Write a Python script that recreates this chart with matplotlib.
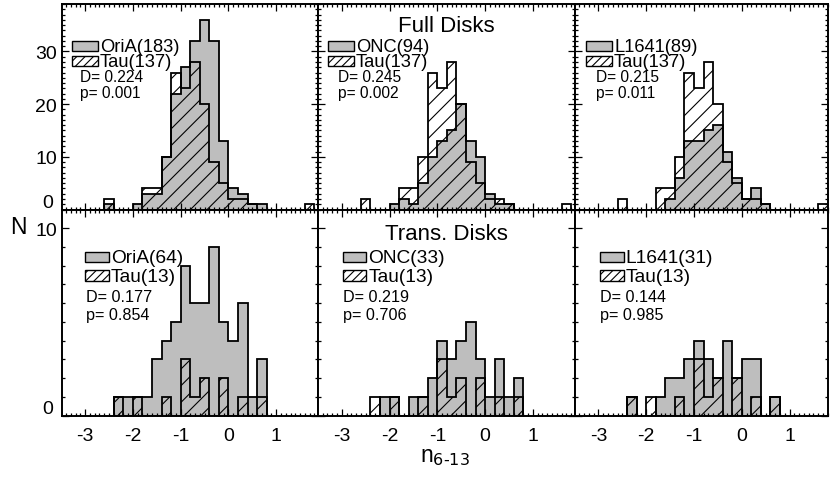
import matplotlib.pyplot as plt
from matplotlib.patches import Rectangle
from matplotlib.ticker import MultipleLocator, FuncFormatter

plt.rcParams['font.family'] = ['Liberation Sans', 'DejaVu Sans']
plt.rcParams['axes.unicode_minus'] = False
plt.rcParams['hatch.linewidth'] = 0.8

# histogram bins of n_6-13 (width 0.2)
full_edges = [-2.6, -2.4, -2.2, -2.0, -1.8, -1.6, -1.4, -1.2, -1.0, -0.8, -0.6,
              -0.4, -0.2, 0.0, 0.2, 0.4, 0.6, 0.8, 1.0, 1.2, 1.4, 1.6, 1.8]
tau_full = [2, 0, 0, 0, 4, 4, 10, 26, 23, 28, 20, 9, 5, 2, 2, 1, 0, 0, 0, 0, 0, 1]
oria_full = [1, 0, 0, 1, 3, 3, 10, 22, 27, 32, 36, 32, 13, 4, 3, 1, 1, 0, 0, 0, 0, 0]
onc_full = [0, 0, 0, 1, 2, 1, 5, 10, 13, 15, 20, 13, 10, 3, 1, 1, 0, 0, 0, 0, 0, 0]
l1641_full = [0, 0, 0, 0, 0, 2, 6, 13, 13, 15, 16, 11, 6, 2, 4, 1, 0, 0, 0, 0, 0, 0]

trans_edges = [-2.4, -2.2, -2.0, -1.8, -1.6, -1.4, -1.2, -1.0, -0.8, -0.6, -0.4,
               -0.2, 0.0, 0.2, 0.4, 0.6, 0.8]
tau_trans = [1, 0, 1, 0, 0, 1, 0, 3, 1, 2, 0, 2, 0, 1, 0, 1]
oria_trans = [1, 1, 1, 1, 3, 4, 5, 8, 6, 6, 9, 5, 4, 6, 1, 3]
onc_trans = [0, 1, 1, 0, 1, 1, 2, 4, 3, 4, 5, 3, 1, 3, 1, 2]
l1641_trans = [1, 0, 0, 1, 2, 2, 3, 4, 3, 2, 4, 2, 3, 3, 0, 1]

full_labels = ['OriA(183)', 'ONC(94)', 'L1641(89)']
trans_labels = ['OriA(64)', 'ONC(33)', 'L1641(31)']
full_D = ['0.224', '0.245', '0.215']
full_p = ['0.001', '0.002', '0.011']
trans_D = ['0.177', '0.219', '0.144']
trans_p = ['0.854', '0.706', '0.985']
row_titles = ['Full Disks', 'Trans. Disks']

W, H = 831, 481
fig = plt.figure(figsize=(W / 100, H / 100), dpi=100)

col_left = [61.7, 318.3, 575.0]
col_width = [256.6, 256.7, 253.3]
col_xmax = [1.88, 1.88, 1.81]
rows_px = [(5.0, 210.5), (210.5, 416.5)]


def no_zero(v, pos):
    return '' if v == 0 else '%d' % v


def panel(ax, edges, gray, tau, glab, tlab, D, p, title, geo):
    pw, ph = geo['pw'], geo['ph']
    ax.stairs(gray, edges, fill=True, facecolor='#bebebe', edgecolor='black', lw=1.3)
    ax.stairs(tau, edges, fill=True, facecolor='none', edgecolor='black', lw=1.3, hatch='//')

    def fx(dx):
        return dx / pw

    def fy(dy):
        return 1 - dy / ph

    bx, bw, bh = geo['bx'], geo['bw'], geo['bh']
    for base, hatch, lab in [(geo['b1'], None, glab), (geo['b2'], '////', tlab)]:
        ax.add_patch(Rectangle((fx(bx), fy(base)), bw / pw, bh / ph, transform=ax.transAxes,
                               facecolor='white' if hatch else '#bebebe', edgecolor='black',
                               lw=1.0, hatch=hatch, clip_on=False))
        ax.text(fx(bx + bw + 2), fy(base), lab, transform=ax.transAxes,
                fontsize=geo['fs'], va='baseline', ha='left')
    ax.text(fx(geo['dx']), fy(geo['bD']), 'D= ' + D, transform=ax.transAxes,
            fontsize=geo['fs2'], va='baseline')
    ax.text(fx(geo['dx']), fy(geo['bp']), 'p= ' + p, transform=ax.transAxes,
            fontsize=geo['fs2'], va='baseline')
    if title:
        ax.text(0.5, fy(geo['bt']), title, transform=ax.transAxes, fontsize=16,
                ha='center', va='baseline')


for r in range(2):
    top, bot = rows_px[r]
    ph = bot - top
    for c in range(3):
        pw = col_width[c]
        ax = fig.add_axes([col_left[c] / W, (H - bot) / H, pw / W, ph / H])
        if r == 0:
            gray = [oria_full, onc_full, l1641_full][c]
            geo = dict(pw=pw, ph=ph, bx=[10, 9.5, 11][c], bw=26, bh=10, b1=46.5, b2=62,
                       dx=[18.5, 20, 21][c], bD=77, bp=93, bt=27, fs=13.2, fs2=11.2)
            panel(ax, full_edges, gray, tau_full, full_labels[c], 'Tau(137)',
                  full_D[c], full_p[c], row_titles[0] if c == 1 else None, geo)
            ax.set_ylim(0, 39)
            ax.tick_params(labelbottom=False)
        else:
            gray = [oria_trans, onc_trans, l1641_trans][c]
            geo = dict(pw=pw, ph=ph, bx=[23.5, 24.5, 25][c], bw=23.5, bh=10.5, b1=52.5, b2=71,
                       dx=[24.5, 24.5, 25.5][c], bD=91, bp=109.5, bt=29.5, fs=13.8, fs2=11.6)
            panel(ax, trans_edges, gray, tau_trans, trans_labels[c], 'Tau(13)',
                  trans_D[c], trans_p[c], row_titles[1] if c == 1 else None, geo)
            ax.set_ylim(0, 11)
        ax.set_xlim(-3.49, col_xmax[c])
        ax.xaxis.set_major_locator(MultipleLocator(1))
        ax.xaxis.set_minor_locator(MultipleLocator(0.1))
        ax.yaxis.set_major_locator(MultipleLocator(10))
        ax.yaxis.set_minor_locator(MultipleLocator(1))
        ax.yaxis.set_major_formatter(FuncFormatter(no_zero))
        ax.tick_params(which='both', direction='in', top=True, right=True, width=0.9,
                       labelsize=14)
        ax.tick_params(axis='x', which='major', pad=8)
        ax.tick_params(which='major', length=5)
        ax.tick_params(which='minor', length=2.2)
        if c > 0:
            ax.tick_params(labelleft=False)
        else:
            # the zero label sits a little above its tick
            ax.text(-0.035, 7 / ph, '0', transform=ax.transAxes, fontsize=14,
                    ha='right', va='center')
        for s in ax.spines.values():
            s.set_linewidth(1.4)

fig.text(18 / W, 1 - 228 / H, 'N', fontsize=16.5, ha='center', va='center')
fig.text(445 / W, 1 - 457 / H, r'n$_{\text{6-13}}$', fontsize=16.5,
         ha='center', va='center')

fig.savefig('out.png', dpi=100)
